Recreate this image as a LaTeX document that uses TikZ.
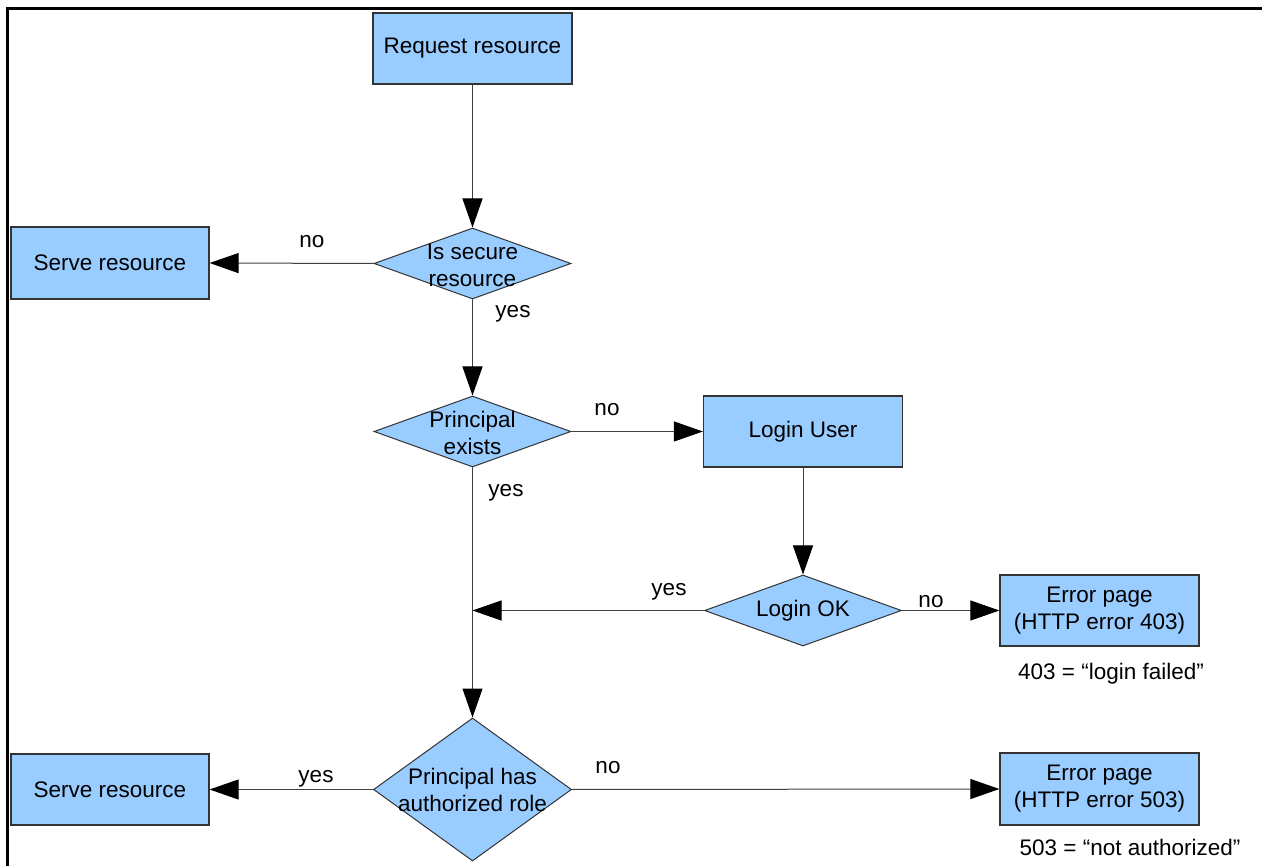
\documentclass[tikz,border=0pt]{standalone}
\usepackage{fontspec}
\setmainfont{Liberation Sans}
\usetikzlibrary{arrows.meta,shapes.geometric}
\definecolor{boxfill}{HTML}{99CCFF}
\definecolor{boxline}{HTML}{333333}
\definecolor{wire}{HTML}{404040}
\tikzset{
  txt/.style={font=\fontsize{22.5}{27}\selectfont, text=black},
  stepbox/.style={txt, draw=boxline, line width=1.2pt, fill=boxfill,
    rectangle, minimum width=199pt, minimum height=71pt, inner sep=0pt, align=center},
  decision/.style={draw=boxline, line width=1pt, fill=boxfill, shape=diamond,
    minimum width=197pt, inner sep=0pt},
  dlabel/.style={txt, align=center, inner sep=0pt},
  tag/.style={txt, anchor=base, inner sep=0pt},
  flow/.style={draw=wire, line width=1pt,
    -{Triangle[length=29pt,width=20pt,fill=black,color=black]}},
  frameline/.style={draw=black, line width=3pt}
}
\begin{document}
\begin{tikzpicture}[x=1pt, y=-1pt]
  \useasboundingbox (0,0) rectangle (1262,866);
  % page frame (top and left edges)
  \draw[frameline] (7,866) -- (7,9) -- (1262,9);

  % boxes
  \node[stepbox] (req) at (472.5,48.5) {Request resource};
  \node[stepbox, minimum width=198pt, minimum height=72pt] (serve1) at (110,263) {Serve resource};
  \node[stepbox] (login) at (803,431.5) {Login User};
  \node[stepbox] (e403) at (1099.5,610.5) {Error page\\(HTTP error 403)};
  \node[stepbox, minimum width=198pt] (serve2) at (110,789.5) {Serve resource};
  \node[stepbox, minimum height=72pt] (e503) at (1099.5,789) {Error page\\(HTTP error 503)};

  % decisions
  \node[decision, minimum height=71pt] (sec) at (472.5,263.5) {};
  \node[dlabel] (sectext) at (472.5,265.5) {Is secure\\resource};
  \node[decision, minimum height=71pt] (pe) at (472.5,431.5) {};
  \node[dlabel] (petext) at (472.5,433) {Principal\\exists};
  \node[decision, minimum height=71pt] (lok) at (803,610.5) {};
  \node[dlabel] (loktext) at (803,611) {Login OK};
  \node[decision, minimum width=198pt, minimum height=143pt] (auth) at (472.5,789.5) {};
  \node[dlabel] (authtext) at (472.5,790) {Principal has\\authorized role};

  % junction where the successful login rejoins the main flow
  \coordinate (join) at (pe.south |- lok.west);

  % connectors
  \draw[flow] (req) -- (sec);
  \draw[flow] (sec.west) -- (serve1.east);
  \draw[flow] (sec.south) -- (pe.north);
  \draw[flow] (pe.east) -- (login.west);
  \draw[flow] (login.south) -- (lok.north);
  \draw[flow] (lok.east) -- (e403.west);
  \draw[flow] (lok.west) -- (join);
  \draw[flow] (pe.south) -- (auth.north);
  \draw[flow] (auth.west) -- (serve2.east);
  \draw[flow] (auth.east) -- (e503.west);

  % branch labels
  \node[tag] (l1) at (312,248) {no};
  \node[tag] (l2) at (513,318) {yes};
  \node[tag] (l3) at (607,416) {no};
  \node[tag] (l4) at (506,497) {yes};
  \node[tag] (l5) at (669,595) {yes};
  \node[tag] (l6) at (931,607) {no};
  \node[tag] (l7) at (316,782) {yes};
  \node[tag] (l8) at (608,773) {no};

  % notes under the error pages
  \node[tag] (n403) at (1111,679) {403 = “login failed”};
  \node[tag] (n503) at (1130,855) {503 = “not authorized”};
\end{tikzpicture}
\end{document}
